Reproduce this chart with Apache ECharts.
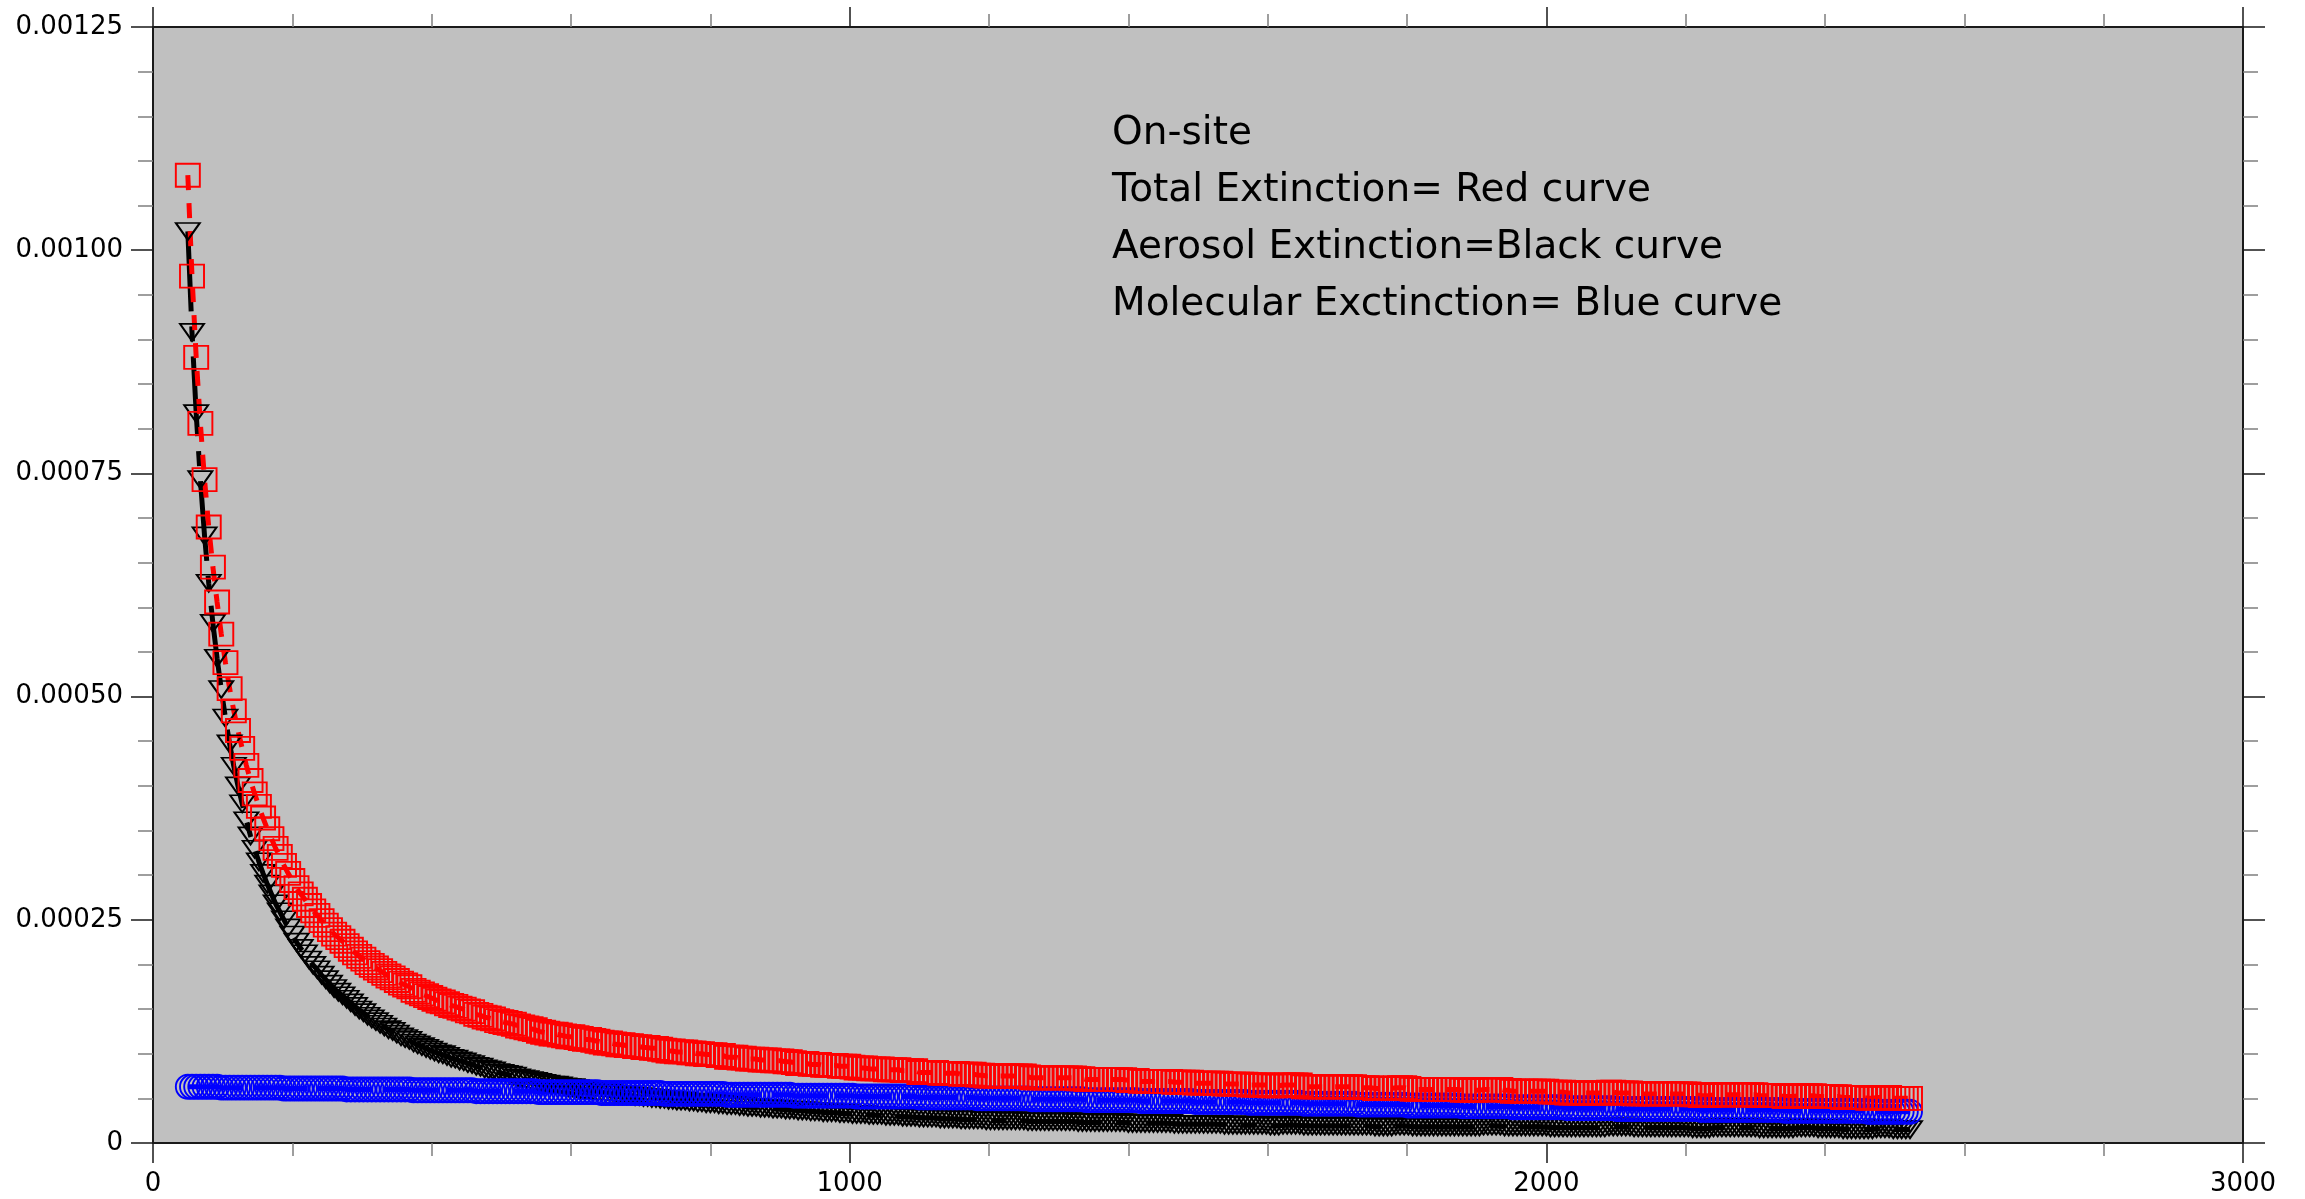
<!DOCTYPE html>
<html>
<head>
<meta charset="utf-8">
<script src="https://cdn.jsdelivr.net/npm/echarts@6/dist/echarts.min.js"></script>
<style>
html, body { margin: 0; padding: 0; background: #fff; }
#chart { width: 2305px; height: 1199px; }
</style>
</head>
<body>
<div id="chart"></div>
<script>
// Range gates (m)
const rangeM = [
  50,56,62,68,74,80,86,92,98,104,
  110,116,122,128,134,140,146,152,158,164,
  170,176,182,188,194,200,206,212,218,224,
  230,236,242,248,254,260,266,272,278,284,
  290,296,302,308,314,320,326,332,338,344,
  350,356,362,368,374,380,386,392,398,404,
  410,416,422,428,434,440,446,452,458,464,
  470,476,482,488,494,500,506,512,518,524,
  530,536,542,548,554,560,566,572,578,584,
  590,596,602,608,614,620,626,632,638,644,
  650,656,662,668,674,680,686,692,698,704,
  710,716,722,728,734,740,746,752,758,764,
  770,776,782,788,794,800,806,812,818,824,
  830,836,842,848,854,860,866,872,878,884,
  890,896,902,908,914,920,926,932,938,944,
  950,956,962,968,974,980,986,992,998,1004,
  1010,1016,1022,1028,1034,1040,1046,1052,1058,1064,
  1070,1076,1082,1088,1094,1100,1106,1112,1118,1124,
  1130,1136,1142,1148,1154,1160,1166,1172,1178,1184,
  1190,1196,1202,1208,1214,1220,1226,1232,1238,1244,
  1250,1256,1262,1268,1274,1280,1286,1292,1298,1304,
  1310,1316,1322,1328,1334,1340,1346,1352,1358,1364,
  1370,1376,1382,1388,1394,1400,1406,1412,1418,1424,
  1430,1436,1442,1448,1454,1460,1466,1472,1478,1484,
  1490,1496,1502,1508,1514,1520,1526,1532,1538,1544,
  1550,1556,1562,1568,1574,1580,1586,1592,1598,1604,
  1610,1616,1622,1628,1634,1640,1646,1652,1658,1664,
  1670,1676,1682,1688,1694,1700,1706,1712,1718,1724,
  1730,1736,1742,1748,1754,1760,1766,1772,1778,1784,
  1790,1796,1802,1808,1814,1820,1826,1832,1838,1844,
  1850,1856,1862,1868,1874,1880,1886,1892,1898,1904,
  1910,1916,1922,1928,1934,1940,1946,1952,1958,1964,
  1970,1976,1982,1988,1994,2000,2006,2012,2018,2024,
  2030,2036,2042,2048,2054,2060,2066,2072,2078,2084,
  2090,2096,2102,2108,2114,2120,2126,2132,2138,2144,
  2150,2156,2162,2168,2174,2180,2186,2192,2198,2204,
  2210,2216,2222,2228,2234,2240,2246,2252,2258,2264,
  2270,2276,2282,2288,2294,2300,2306,2312,2318,2324,
  2330,2336,2342,2348,2354,2360,2366,2372,2378,2384,
  2390,2396,2402,2408,2414,2420,2426,2432,2438,2444,
  2450,2456,2462,2468,2474,2480,2486,2492,2498,2504,
  2510,2516,2522
];

// Aerosol extinction (1e-6 per m)
const aerosolExt = [
  1021,908,817,743,680,627,582,543,508,476,
  447,422,400,380,361,344,329,315,302,290,
  279,268,259,250,241,233,225,218,212,205,
  199,194,188,183,178,173,169,165,161,157,
  153,149,146,142,139,136,133,130,127,125,
  122,119,117,115,112,110,108,106,104,102,
  100,99,97,95,94,92,91,89,88,86,
  85,83,82,81,79,78,77,76,75,73,
  72,71,70,69,68,67,66,65,65,64,
  63,62,62,61,60,59,59,58,57,57,
  56,56,55,54,54,53,53,52,52,51,
  51,50,50,49,49,48,48,47,47,47,
  46,46,45,45,44,44,44,43,43,42,
  42,42,41,41,40,40,40,39,39,39,
  38,38,38,37,37,37,36,36,36,35,
  35,35,34,34,34,34,33,33,33,32,
  32,32,32,31,31,31,31,30,30,30,
  30,29,29,29,29,28,28,28,28,28,
  27,27,27,27,27,26,26,26,26,26,
  26,25,25,25,25,25,25,25,25,25,
  25,24,24,24,24,24,24,24,24,24,
  24,24,24,23,23,23,23,23,23,23,
  23,23,23,23,23,22,22,22,22,22,
  22,22,22,22,22,22,21,21,21,21,
  21,21,21,21,21,21,21,21,20,20,
  20,20,20,20,20,20,20,20,20,19,
  19,19,20,20,20,20,20,19,19,19,
  19,19,19,19,19,19,19,19,19,19,
  19,19,19,19,18,18,18,18,18,19,
  19,19,19,18,18,18,18,18,18,18,
  18,18,18,18,18,18,18,18,18,18,
  19,19,19,19,19,18,18,18,18,18,
  18,18,18,18,18,18,17,17,17,17,
  17,17,17,17,17,17,17,17,17,17,
  18,18,18,18,18,18,17,17,17,17,
  17,17,17,17,17,17,17,17,17,17,
  16,16,16,16,16,17,17,17,17,17,
  17,17,17,17,17,17,16,16,16,16,
  16,16,16,16,16,17,17,17,17,17,
  16,16,16,16,16,16,15,15,15,15,
  15,15,15,15,16,16,16,16,15,15,
  15,15,15
];

// Molecular extinction (1e-6 per m)
const molecularExt = [
  63,63,63,63,63,63,63,63,62,62,
  62,62,62,62,62,62,62,62,62,62,
  62,62,62,61,61,61,61,61,61,61,
  61,61,61,61,61,61,61,61,60,60,
  60,60,60,60,60,60,60,60,60,60,
  60,60,60,60,59,59,59,59,59,59,
  59,59,59,59,59,59,59,59,59,58,
  58,58,58,58,58,58,58,58,58,58,
  58,58,58,58,57,57,57,57,57,57,
  57,57,57,57,57,57,57,57,57,56,
  56,56,56,56,56,56,56,56,56,56,
  56,56,56,56,55,55,55,55,55,55,
  55,55,55,55,55,55,55,55,55,54,
  54,54,54,54,54,54,54,54,54,54,
  54,54,54,54,54,53,53,53,53,53,
  53,53,53,53,53,53,53,53,53,53,
  52,52,52,52,52,52,52,52,52,52,
  52,52,52,52,52,51,51,51,51,51,
  51,51,51,51,51,51,51,51,51,50,
  50,50,50,50,50,50,50,50,50,50,
  50,50,49,49,49,49,49,49,49,49,
  49,49,49,49,49,48,48,48,48,48,
  48,48,48,48,48,48,48,48,47,47,
  47,47,47,47,47,47,47,47,47,47,
  47,46,46,46,46,46,46,46,46,46,
  46,46,46,46,45,45,45,45,45,45,
  45,45,45,45,45,45,45,44,44,44,
  44,44,44,44,44,44,44,44,44,44,
  43,43,43,43,43,43,43,43,43,43,
  43,43,42,42,42,42,42,42,42,42,
  42,42,42,42,42,41,41,41,41,41,
  41,41,41,41,41,41,41,40,40,40,
  40,40,40,40,40,40,40,40,40,40,
  39,39,39,39,39,39,39,39,39,39,
  39,39,38,38,38,38,38,38,38,38,
  38,38,38,38,38,38,38,38,38,38,
  38,38,37,37,37,37,37,37,37,37,
  37,37,37,37,37,37,37,37,37,37,
  37,37,36,36,36,36,36,36,36,36,
  36,36,36,36,36,36,36,36,36,36,
  36,36,35,35,35,35,35,35,35,35,
  35,35,35
];

// Total extinction (1e-6 per m)
const totalExt = [
  1084,971,880,806,743,690,645,606,570,538,
  509,484,462,442,423,406,391,377,364,352,
  341,330,321,311,302,294,286,279,273,266,
  260,255,249,244,239,234,230,226,221,217,
  213,209,206,202,199,196,193,190,187,185,
  182,179,177,175,171,169,167,165,163,161,
  159,158,156,154,153,151,150,148,147,144,
  143,141,140,139,137,136,135,134,133,131,
  130,129,128,127,125,124,123,122,122,121,
  120,119,119,118,117,116,116,115,114,113,
  112,112,111,110,110,109,109,108,108,107,
  107,106,106,105,104,103,103,102,102,102,
  101,101,100,100,99,99,99,98,98,96,
  96,96,95,95,94,94,94,93,93,93,
  92,92,92,91,91,90,89,89,89,88,
  88,88,87,87,87,87,86,86,86,85,
  84,84,84,83,83,83,83,82,82,82,
  82,81,81,81,81,79,79,79,79,79,
  78,78,78,78,78,77,77,77,77,76,
  76,75,75,75,75,75,75,75,75,75,
  75,74,73,73,73,73,73,73,73,73,
  73,73,73,72,72,71,71,71,71,71,
  71,71,71,71,71,70,70,70,69,69,
  69,69,69,69,69,69,68,68,68,68,
  68,67,67,67,67,67,67,67,66,66,
  66,66,66,66,65,65,65,65,65,64,
  64,64,65,65,65,65,65,63,63,63,
  63,63,63,63,63,63,63,63,63,63,
  62,62,62,62,61,61,61,61,61,62,
  62,62,61,60,60,60,60,60,60,60,
  60,60,60,60,60,59,59,59,59,59,
  60,60,60,60,60,59,59,58,58,58,
  58,58,58,58,58,58,57,57,57,57,
  56,56,56,56,56,56,56,56,56,56,
  57,57,56,56,56,56,55,55,55,55,
  55,55,55,55,55,55,55,55,55,55,
  54,54,53,53,53,54,54,54,54,54,
  54,54,54,54,54,54,53,53,53,53,
  53,53,52,52,52,53,53,53,53,53,
  52,52,52,52,52,52,51,51,51,51,
  51,51,50,50,51,51,51,51,50,50,
  50,50,50
];

const xTickLabels = ['0', '1000', '2000', '3000'];
const yTickLabels = ['0', '0.00025', '0.00050', '0.00075', '0.00100', '0.00125'];
const noteLines = [
  'On-site',
  'Total Extinction= Red curve',
  'Aerosol Extinction=Black curve',
  'Molecular Exctinction= Blue curve'
];

function toPairs(values) {
  const n = Math.min(rangeM.length, values.length);
  const out = [];
  for (let i = 0; i < n; i++) out.push([rangeM[i], values[i]]);
  return out;
}

const AXIS_COLOR = '#1a1a1a';
const MINOR_COLOR = '#7f7f7f';
const tickFont = { fontFamily: 'DejaVu Sans', fontSize: 26, color: '#000' };

function xAxisAt(position, withLabels) {
  return {
    type: 'value', position: position, min: 0, max: 3000, interval: 1000,
    axisLine: { show: true, onZero: false, lineStyle: { color: AXIS_COLOR, width: 2 } },
    axisTick: { show: true, length: 20, lineStyle: { color: AXIS_COLOR, width: 1.5 } },
    minorTick: { show: true, splitNumber: 5, length: 13, lineStyle: { color: MINOR_COLOR, width: 1.5 } },
    splitLine: { show: false }, minorSplitLine: { show: false },
    axisLabel: Object.assign({ show: withLabels, margin: 28,
      formatter: v => xTickLabels[Math.round(v / 1000)] }, tickFont)
  };
}

function yAxisAt(position, withLabels) {
  return {
    type: 'value', position: position, min: 0, max: 1250, interval: 250,
    axisLine: { show: true, onZero: false, lineStyle: { color: AXIS_COLOR, width: 2 } },
    axisTick: { show: true, length: 22, lineStyle: { color: AXIS_COLOR, width: 1.5 } },
    minorTick: { show: true, splitNumber: 5, length: 15, lineStyle: { color: MINOR_COLOR, width: 1.5 } },
    splitLine: { show: false }, minorSplitLine: { show: false },
    axisLabel: Object.assign({ show: withLabels, margin: 30,
      formatter: v => yTickLabels[Math.round(v / 250)] }, tickFont)
  };
}

function curve(name, values, symbol, size, rotate, color, dash) {
  return {
    type: 'line', name: name, data: toPairs(values),
    xAxisIndex: 0, yAxisIndex: 0,
    symbol: symbol, symbolSize: size, symbolRotate: rotate,
    showSymbol: true,
    itemStyle: { color: 'rgba(0,0,0,0)', borderColor: color, borderWidth: 1.9 },
    lineStyle: { color: color, width: 5, type: dash },
    silent: true, animation: false
  };
}

const chart = echarts.init(document.getElementById('chart'), null, { renderer: 'canvas' });
chart.setOption({
  animation: false,
  backgroundColor: '#ffffff',
  grid: {
    left: 153, right: 62, top: 27, bottom: 56,
    show: true, backgroundColor: '#c0c0c0', borderWidth: 0,
    outerBoundsMode: 'none'
  },
  xAxis: [xAxisAt('bottom', true), xAxisAt('top', false)],
  yAxis: [yAxisAt('left', true), yAxisAt('right', false)],
  series: [
    curve('Aerosol Extinction', aerosolExt, 'triangle', [24, 17], 180, '#000000', [80, 15, 15, 15]),
    curve('Molecular Extinction', molecularExt, 'circle', 24, 0, '#0000ff', [55, 10]),
    curve('Total Extinction', totalExt, 'rect', [24, 23], 0, '#ff0000', [15, 13])
  ],
  graphic: noteLines.map((line, i) => ({
    type: 'text', x: 1112, y: 133.5 + i * 57, silent: true,
    style: { text: line, fill: '#000', fontFamily: 'DejaVu Sans', fontSize: 39,
      align: 'left', verticalAlign: 'middle' }
  }))
});
</script>
</body>
</html>
